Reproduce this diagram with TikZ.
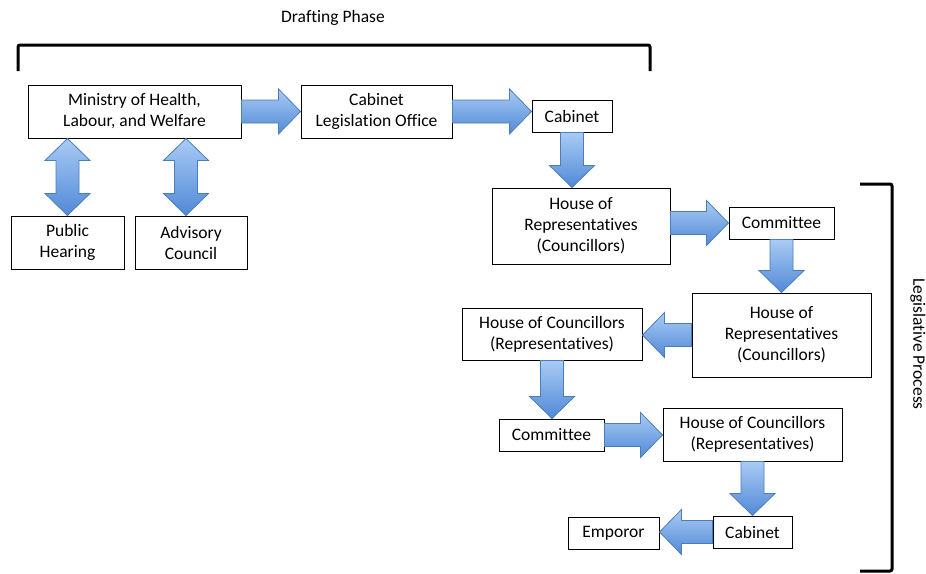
\documentclass[tikz,border=0pt]{standalone}
\usepackage{fontspec}
\setmainfont{Carlito}[Ligatures=NoCommon]
\usepackage{tikz}
\usetikzlibrary{calc}
\usetikzlibrary{arrows.meta,positioning}

\definecolor{arrowlight}{HTML}{A9CBF5}
\definecolor{arrowdark}{HTML}{5189D6}
\definecolor{arrowline}{HTML}{4A7EBB}

% fat block arrow between two points
\newcommand{\blockarrow}[2]{%
  \path (#1) coordinate (ba-s) (#2) coordinate (ba-e);
  \path ($(ba-e)!22pt!(ba-s)$) coordinate (ba-h);
  \draw[fatarrow] ($(ba-s)!11.5pt!90:(ba-e)$) -- ($(ba-h)!11.5pt!90:(ba-e)$)
    -- ($(ba-h)!22.5pt!90:(ba-e)$) -- (ba-e) -- ($(ba-h)!22.5pt!-90:(ba-e)$)
    -- ($(ba-h)!11.5pt!-90:(ba-e)$) -- ($(ba-s)!11.5pt!-90:(ba-e)$) -- cycle;}

% fat double arrow between two points
\newcommand{\dblarrow}[2]{%
  \path (#1) coordinate (ba-s) (#2) coordinate (ba-e);
  \path ($(ba-e)!22pt!(ba-s)$) coordinate (ba-h) ($(ba-s)!22pt!(ba-e)$) coordinate (ba-g);
  \draw[fatarrow] (ba-s) -- ($(ba-g)!22.5pt!90:(ba-e)$) -- ($(ba-g)!11.5pt!90:(ba-e)$)
    -- ($(ba-h)!11.5pt!90:(ba-e)$) -- ($(ba-h)!22.5pt!90:(ba-e)$) -- (ba-e)
    -- ($(ba-h)!22.5pt!-90:(ba-e)$) -- ($(ba-h)!11.5pt!-90:(ba-e)$)
    -- ($(ba-g)!11.5pt!-90:(ba-e)$) -- ($(ba-g)!22.5pt!-90:(ba-e)$) -- cycle;}

\begin{document}
\begin{tikzpicture}[x=1pt,y=-1pt, every node/.style={font=\fontsize{17.5}{21}\selectfont}]
    \tikzset{box/.style={draw,line width=1pt,fill=white,align=center,inner sep=2pt}}
    \tikzset{fatarrow/.style={draw=arrowline,line width=0.8pt,line join=miter,top color=arrowlight,bottom color=arrowdark}}
    \tikzset{bracket/.style={draw,line width=3pt,rounded corners=2pt}}
    \useasboundingbox (0,0) rectangle (926,573);

    % Drafting phase
    \node (draftlbl) at (333,18) {Drafting Phase};
    \draw[bracket] (18,71) -- (18,45) -- (650,45) -- (650,71);

    \node[box,minimum width=213,minimum height=53] (ministry) at (134.5,111.5) {Ministry of Health,\\Labour, and Welfare};
    \node[box,minimum width=151,minimum height=53] (clo) at (376.5,111.5) {Cabinet\\Legislation Office};
    \node[box,minimum width=80,minimum height=32] (cab1) at (572,116) {Cabinet};
    \node[box,minimum width=113,minimum height=53] (hear) at (67.5,242.5) {Public\\Hearing};
    \node[box,minimum width=112,minimum height=53] (advis) at (191,242.5) {Advisory\\Council};

    \blockarrow{ministry.east}{clo.west}
    \blockarrow{clo.east}{cab1.west |- clo.east}
    \dblarrow{ministry.south -| hear.north}{hear.north}
    \dblarrow{[xshift=-5pt]ministry.south -| advis.north}{[xshift=-5pt]advis.north}

    % Legislative process
    \draw[bracket] (860,184) -- (892,184) -- (892,571) -- (860,571);
    \node[rotate=-90] (leglbl) at (918,344) {Legislative Process};

    \node[box,minimum width=178,minimum height=76] (hor1) at (581,226) {House of\\Representatives\\(Councillors)};
    \node[box,minimum width=105,minimum height=32] (com1) at (781.5,223) {Committee};
    \node[box,minimum width=179,minimum height=84] (hor2) at (781.5,335) {House of\\Representatives\\(Councillors)};
    \node[box,minimum width=180,minimum height=52] (hoc1) at (552,334) {House of Councillors\\(Representatives)};
    \node[box,minimum width=105,minimum height=32] (com2) at (551.5,435) {Committee};
    \node[box,minimum width=179,minimum height=53] (hoc2) at (752.5,434.5) {House of Councillors\\(Representatives)};
    \node[box,minimum width=79,minimum height=32] (cab2) at (752.5,532) {Cabinet};
    \node[box,minimum width=91,minimum height=32] (emp) at (613.5,533) {Emporor};

    \blockarrow{cab1.south}{cab1.south |- hor1.north}
    \blockarrow{hor1.east |- com1.west}{com1.west}
    \blockarrow{com1.south}{com1.south |- hor2.north}
    \blockarrow{hor2.west}{hoc1.east |- hor2.west}
    \blockarrow{hoc1.south}{hoc1.south |- com2.north}
    \blockarrow{com2.east}{hoc2.west |- com2.east}
    \blockarrow{hoc2.south}{hoc2.south |- cab2.north}
    \blockarrow{cab2.west}{emp.east |- cab2.west}
\end{tikzpicture}
\end{document}
